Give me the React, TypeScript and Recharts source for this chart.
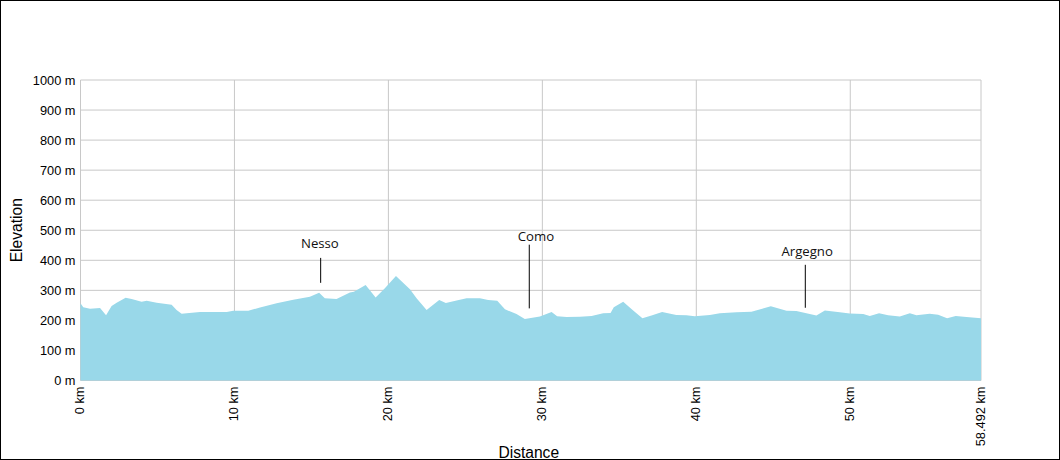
import { Area, AreaChart, CartesianGrid, ReferenceDot, ReferenceLine, XAxis, YAxis } from "recharts";

const distanceKm = [
  0, 0.18, 0.62, 1.27, 1.66, 2.02, 2.35, 2.93, 3.32, 3.97, 4.3, 4.95, 5.92, 6.24, 6.57, 6.9, 7.76, 9.5, 9.92, 10.9,
  11.66, 12.74, 13.82, 14.9, 15.5, 15.87, 16.63, 17.5, 17.76, 18.52, 19.17, 19.77, 20.49, 21.4, 21.83, 22.48, 23.3,
  23.73, 24.43, 25.08, 25.94, 26.48, 27.07, 27.57, 28.32, 28.86, 29.84, 30.6, 30.96, 31.57, 32.44, 33.2, 33.95, 34.43,
  34.64, 35.25, 35.9, 36.5, 37.09, 37.78, 38.7, 39.36, 39.9, 40.88, 41.53, 42.61, 43.58, 44.84, 45.86, 46.5, 47.8,
  48.35, 49.32, 49.97, 50.84, 51.27, 51.87, 52.46, 53.22, 53.87, 54.3, 55.16, 55.71, 56.29, 56.85, 57.55, 58.492,
];
const elevationM = [
  257, 244, 239, 241, 217, 248, 259, 275, 271, 262, 265, 259, 252, 235, 222, 224, 228, 228, 232, 232,
  243, 257, 269, 279, 292, 274, 271, 293, 295, 318, 276, 307, 348, 304, 274, 235, 268,
  258, 266, 274, 274, 268, 265, 237, 221, 205, 213, 228, 214, 211, 212, 215, 224, 225,
  244, 262, 233, 207, 216, 228, 218, 217, 214, 218, 224, 227, 229, 247, 232, 231, 216,
  233, 227, 223, 221, 215, 224, 217, 213, 224, 217, 222, 219, 207, 215, 211, 207,
];

const xTicks = [0, 10, 20, 30, 40, 50, 58.492];
const yTicks = [0, 100, 200, 300, 400, 500, 600, 700, 800, 900, 1000];

const placeNames = ["Nesso", "Como", "Argegno"];
const placeKm = [15.6, 29.15, 47.08];
const stemBottomM = [325, 240, 242];
const stemTopM = [408, 452, 385];
const labelKm = [15.55, 29.58, 47.2];
const labelM = [455, 480, 430];

const rows = distanceKm.map((km, i) => ({ km, elevation: elevationM[i] }));

const tickFont = { fontFamily: "Liberation Sans", fontSize: 12.8, fill: "#000" };
const titleFont = { fontFamily: "Liberation Sans", fontSize: 15.6, fill: "#000" };

export default function App() {
  return (
    <div style={{ position: "absolute", left: 0, top: 0, width: 1060, height: 460, background: "#fff", outline: "1px solid #000", outlineOffset: -1 }}>
      <AreaChart width={1060} height={460} data={rows} margin={{ top: 80, right: 79, left: 0, bottom: 0 }}>
        <CartesianGrid stroke="#c8c8c8" strokeWidth={1} />
        <XAxis
          dataKey="km"
          type="number"
          domain={[0, 58.492]}
          ticks={xTicks}
          interval={0}
          height={79.5}
          tickLine={false}
          axisLine={false}
          angle={-90}
          textAnchor="end"
          tickMargin={0}
          tick={{ ...tickFont, dx: -5.5 }}
          tickFormatter={(v: number) => `${v} km`}
          label={{ value: "Distance", position: "insideBottom", offset: 2, dx: -2, style: titleFont }}
        />
        <YAxis
          type="number"
          domain={[0, 1000]}
          ticks={yTicks}
          interval={0}
          width={80.5}
          tickLine={false}
          axisLine={false}
          tickMargin={4}
          tick={{ ...tickFont, dx: 5 }}
          tickFormatter={(v: number) => `${v} m`}
          label={{ value: "Elevation", angle: -90, position: "insideLeft", offset: 16, style: { ...titleFont, textAnchor: "middle" } }}
        />
        <Area
          type="linear"
          dataKey="elevation"
          stroke="none"
          fill="#99d8e9"
          fillOpacity={1}
          isAnimationActive={false}
          dot={false}
          activeDot={false}
        />
        {placeNames.map((name, i) => (
          <ReferenceLine
            key={name}
            stroke="#000"
            strokeWidth={1}
            segment={[
              { x: placeKm[i], y: stemBottomM[i] },
              { x: placeKm[i], y: stemTopM[i] },
            ]}
          />
        ))}
        {placeNames.map((name, i) => (
          <ReferenceDot
            key={name}
            x={labelKm[i]}
            y={labelM[i]}
            r={0}
            stroke="none"
            label={{ value: name, position: "center", style: { fontFamily: "Open Sans", fontSize: 13.2, fill: "#111" } }}
          />
        ))}
      </AreaChart>
    </div>
  );
}
